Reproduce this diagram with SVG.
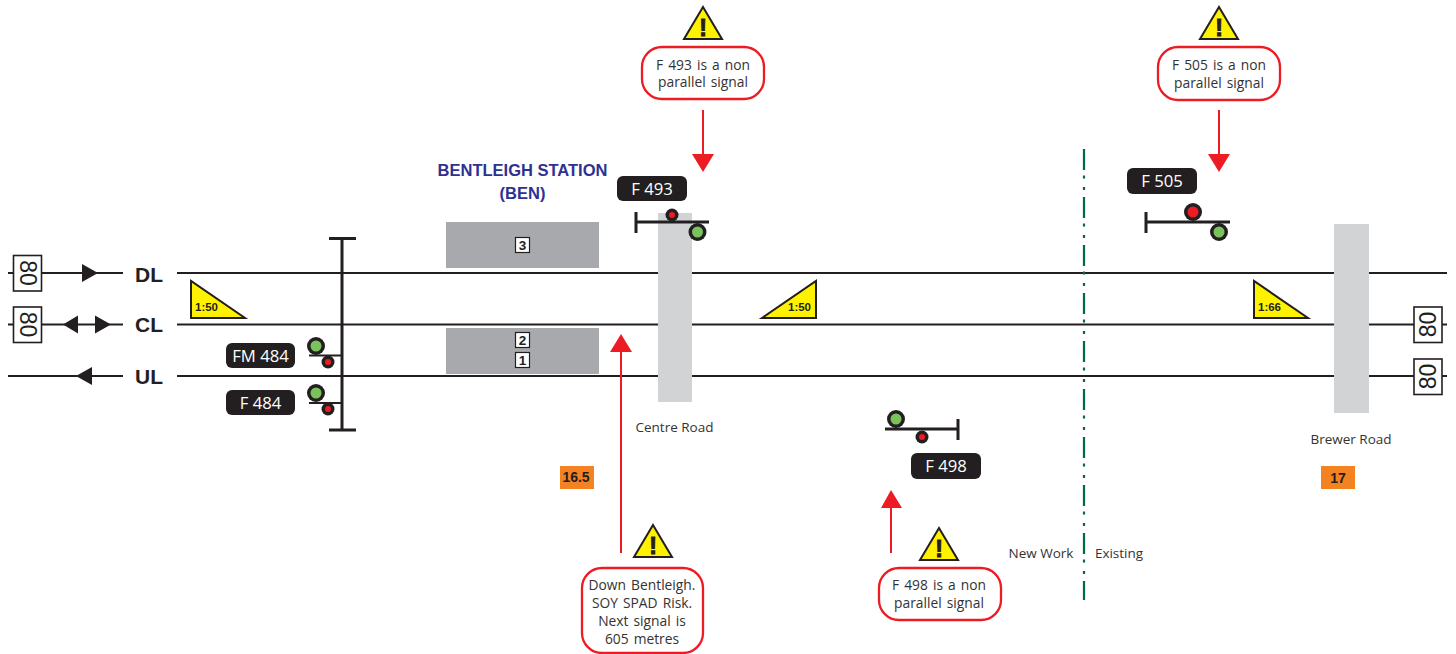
<svg xmlns="http://www.w3.org/2000/svg" width="1456" height="654" viewBox="0 0 1456 654">
<style>
.trk{stroke:#231f20;stroke-width:2;fill:none}
.post{stroke:#231f20;stroke-width:3;fill:none}
.bridge{fill:#d1d3d4}
.plat{fill:#a7a9ac}
.pnum{fill:#fff;stroke:#231f20;stroke-width:1.2}
.pt{font:bold 13.5px "Liberation Sans",sans-serif;fill:#231f20;text-anchor:middle}
.spd{fill:#fff;stroke:#231f20;stroke-width:1.6}
.spt{font:23px "Liberation Sans",sans-serif;fill:#231f20;text-anchor:middle}
.tl{font:bold 21px "Liberation Sans",sans-serif;fill:#231f20;text-anchor:middle}
.blk{fill:#231f20}
.grad{fill:#fff200;stroke:#231f20;stroke-width:2}
.gt{font:bold 11.5px "Liberation Sans",sans-serif;fill:#231f20}
.lab{fill:#231f20}
.labt{font:16.7px "Open Sans",sans-serif;fill:#fff;text-anchor:middle}
.go{fill:#231f20}
.gi{fill:#7ac25c}
.ri{fill:#ed1c24}
.call{fill:#fff;stroke:#ed1c24;stroke-width:2.3}
.ct{font:13.5px "Open Sans",sans-serif;fill:#333;text-anchor:middle}
.nt{font:13.8px "Open Sans",sans-serif;fill:#333;text-anchor:middle;word-spacing:1.5px}
.warn{fill:#fff200;stroke:#231f20;stroke-width:2}
.ex{font:bold 23px "Liberation Sans",sans-serif;fill:#231f20;stroke:#231f20;stroke-width:1;text-anchor:middle}
.rl{stroke:#ed1c24;stroke-width:2;fill:none}
.rh{fill:#ed1c24}
.km{fill:#f58220}
.kt{font:bold 14px "Liberation Sans",sans-serif;fill:#231f20;text-anchor:middle}
.title{font:bold 16.5px "Liberation Sans",sans-serif;fill:#2e3192;text-anchor:middle}
</style>
<g id="connectors">
<path class="trk" d="M8 273H123M177 273H1447M8 324.500H123M177 324.500H1447M8 376H123M177 376H1447"/>
<path d="M1084 149V600" stroke="#006b3c" stroke-width="2.2" stroke-dasharray="21 5.5 3 8.5 3 7" fill="none"/>
<path class="rl" d="M703 110V156M1219 110V156M621 553V350M891 553V506"/>
<path class="rh" d="M692 154H714L703 172ZM1208 154H1230L1219 172ZM610 352H632L621 334ZM881 508H902L891 490Z"/>
</g>
<g id="bridge-centre-road"><rect class="bridge" x="658" y="213" width="34" height="189"/><text class="ct" x="674.500" y="432">Centre Road</text></g>
<g id="bridge-brewer-road"><rect class="bridge" x="1334" y="224" width="35" height="189"/><text class="ct" x="1351" y="444">Brewer Road</text></g>
<g id="track-labels">
<text class="tl" x="149" y="282">DL</text><text class="tl" x="149" y="332">CL</text><text class="tl" x="149" y="384">UL</text>
<path class="blk" d="M82 264L98 273L82 282ZM78 315.500L63 324.500L78 333.500ZM95 315.500L111 324.500L95 333.500ZM92 367L76 376L92 385Z"/>
</g>
<g id="speed-dl"><rect class="spd" x="13.500" y="255.500" width="28" height="35.500"/><text class="spt" transform="translate(19.500 273) rotate(90)">80</text></g>
<g id="speed-cl"><rect class="spd" x="13.500" y="307" width="28" height="35.500"/><text class="spt" transform="translate(19.500 324.500) rotate(90)">80</text></g>
<g id="speed-cl-right"><rect class="spd" x="1414" y="307" width="28" height="35.500"/><text class="spt" transform="translate(1436 324.500) rotate(-90)">80</text></g>
<g id="speed-ul-right"><rect class="spd" x="1414" y="359" width="28" height="35.500"/><text class="spt" transform="translate(1436 376.500) rotate(-90)">80</text></g>
<g id="grade-1"><path class="grad" d="M191 281V318H245Z"/><text class="gt" x="195" y="311">1:50</text></g>
<g id="grade-2"><path class="grad" d="M816 281V318H762Z"/><text class="gt" x="788" y="311">1:50</text></g>
<g id="grade-3"><path class="grad" d="M1254 281V318H1308Z"/><text class="gt" x="1258" y="311">1:66</text></g>
<g id="station">
<text class="title" x="522.500" y="176">BENTLEIGH STATION</text><text class="title" x="522.500" y="199">(BEN)</text>
<rect class="plat" x="446" y="222" width="153" height="46"/><rect class="plat" x="446" y="328" width="153" height="46"/>
<rect class="pnum" x="515.500" y="237.500" width="14" height="15"/><text class="pt" x="522.500" y="250">3</text>
<rect class="pnum" x="515.500" y="332.500" width="14" height="15"/><text class="pt" x="522.500" y="345">2</text>
<rect class="pnum" x="515.500" y="352.500" width="14" height="15"/><text class="pt" x="522.500" y="365">1</text>
</g>
<g id="signal-fm484">
<path class="post" d="M329 238.500H356M342 238V430M329 430H356"/>
<path d="M309 355.500H342" class="trk"/><circle class="go" cx="316" cy="346" r="9"/><circle class="gi" cx="316" cy="346" r="5.500"/><circle class="go" cx="328" cy="362" r="6.500"/><circle class="ri" cx="328" cy="362" r="3"/>
<rect class="lab" x="226" y="343" width="69" height="25" rx="6"/><text class="labt" x="260.500" y="362">FM 484</text>
</g>
<g id="signal-f484">
<path d="M309 403H342" class="trk"/><circle class="go" cx="316" cy="393" r="9"/><circle class="gi" cx="316" cy="393" r="5.500"/><circle class="go" cx="328" cy="409" r="6.500"/><circle class="ri" cx="328" cy="409" r="3"/>
<rect class="lab" x="226" y="390" width="69" height="25" rx="6"/><text class="labt" x="260.500" y="409">F 484</text>
</g>
<g id="signal-f493">
<path class="post" d="M636 222H709M636 212V233"/><circle class="go" cx="672" cy="215" r="6.500"/><circle class="ri" cx="672" cy="215" r="3"/><circle class="go" cx="697.500" cy="232" r="9"/><circle class="gi" cx="697.500" cy="232" r="5.500"/>
<rect class="lab" x="617" y="176" width="70" height="25" rx="6"/><text class="labt" x="652" y="195">F 493</text>
</g>
<g id="signal-f505">
<path class="post" d="M1146 222H1230M1146 212V233"/><circle class="go" cx="1193" cy="212" r="9"/><circle class="ri" cx="1193" cy="212" r="5.500"/><circle class="go" cx="1219" cy="232" r="9"/><circle class="gi" cx="1219" cy="232" r="5.500"/>
<rect class="lab" x="1127" y="168" width="70" height="26" rx="6"/><text class="labt" x="1162" y="187">F 505</text>
</g>
<g id="signal-f498">
<path class="post" d="M885 429H958M958 419V440"/><circle class="go" cx="896" cy="419" r="9"/><circle class="gi" cx="896" cy="419" r="5.500"/><circle class="go" cx="922" cy="437" r="6.500"/><circle class="ri" cx="922" cy="437" r="3"/>
<rect class="lab" x="911" y="453" width="70" height="26" rx="6"/><text class="labt" x="946" y="472">F 498</text>
</g>
<g id="note-f493">
<path class="warn" d="M703 7L722 39H684Z"/><text class="ex" x="703" y="36">!</text>
<rect class="call" x="642" y="47" width="122" height="52" rx="20"/><text class="nt" x="703" y="70">F 493 is a non</text><text class="nt" x="703" y="87">parallel signal</text>
</g>
<g id="note-f505">
<path class="warn" d="M1219 7L1238 39H1200Z"/><text class="ex" x="1219" y="36">!</text>
<rect class="call" x="1158" y="47" width="122" height="53" rx="20"/><text class="nt" x="1219" y="70">F 505 is a non</text><text class="nt" x="1219" y="88">parallel signal</text>
</g>
<g id="note-spad">
<path class="warn" d="M653 525L672 557H634Z"/><text class="ex" x="653" y="554">!</text>
<rect class="call" x="582" y="568" width="121" height="85" rx="20"/><text class="nt" x="642" y="590">Down Bentleigh.</text><text class="nt" x="642" y="608">SOY SPAD Risk.</text><text class="nt" x="642" y="626">Next signal is</text><text class="nt" x="642" y="644">605 metres</text>
</g>
<g id="note-f498">
<path class="warn" d="M939 528L958 560H920Z"/><text class="ex" x="939" y="557">!</text>
<rect class="call" x="879" y="568" width="122" height="52" rx="20"/><text class="nt" x="939" y="590">F 498 is a non</text><text class="nt" x="939" y="608">parallel signal</text>
</g>
<g id="km-16-5"><rect class="km" x="560" y="466" width="34" height="23"/><text class="kt" x="576" y="482">16.5</text></g>
<g id="km-17"><rect class="km" x="1321" y="466" width="34" height="23"/><text class="kt" x="1338" y="483">17</text></g>
<g id="boundary-labels"><text class="ct" x="1041" y="558">New Work</text><text class="ct" x="1119" y="558">Existing</text></g>
</svg>
